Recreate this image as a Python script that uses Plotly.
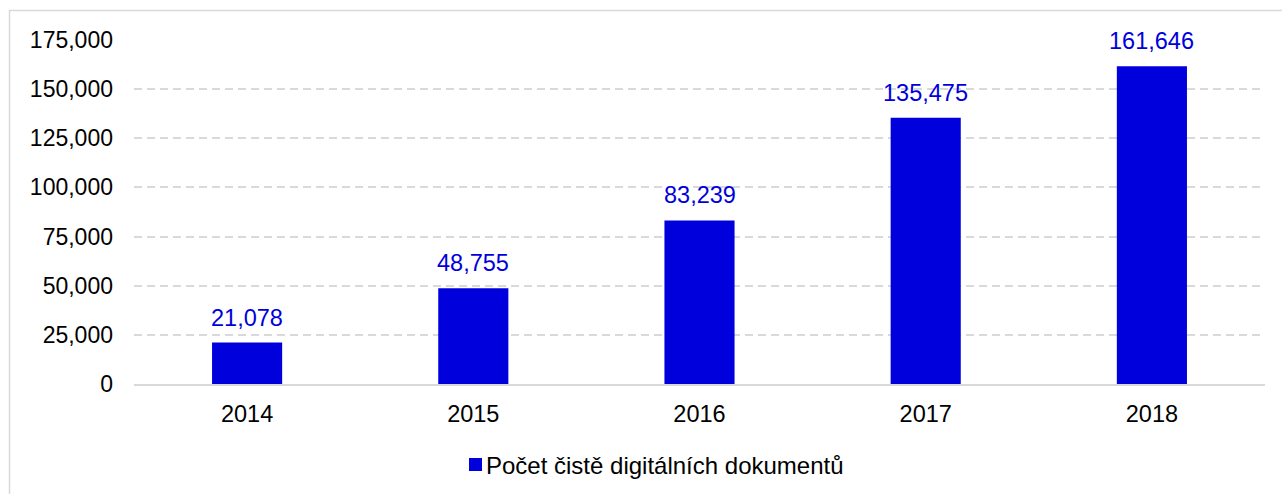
import plotly.graph_objects as go

# Data
years = ["2014", "2015", "2016", "2017", "2018"]
documents = [21078, 48755, 83239, 135475, 161646]
y_ticks = [0, 25000, 50000, 75000, 100000, 125000, 150000, 175000]
series_name = "Počet čistě digitálních dokumentů"

W, H = 1282, 494
ML, MR, MT, MB = 134, 17, 40, 110
PW, PH = W - ML - MR, H - MT - MB

BAR = "#0000DD"
GRID = "#D9D9D9"
FONT = "Liberation Sans, Arial, sans-serif"


def px_x(p):
    return (p - ML) / PW


def px_y(p):
    return (H - MB - p) / PH


fig = go.Figure()
fig.add_trace(go.Bar(
    x=years, y=documents, name=series_name,
    marker=dict(color=BAR, line=dict(width=0)),
    showlegend=False,
))

# value labels above each bar (category index positions)
for i, v in enumerate(documents):
    fig.add_annotation(
        x=i, y=v, xref="x", yref="y", text=f"{v:,}",
        showarrow=False, yanchor="bottom", yshift=10,
        font=dict(family=FONT, size=23.5, color=BAR),
    )

# legend entry: swatch + label
fig.add_shape(type="rect", xref="paper", yref="paper",
              x0=px_x(469), x1=px_x(482), y0=px_y(471), y1=px_y(458),
              fillcolor=BAR, line=dict(width=0))
fig.add_annotation(x=px_x(484), y=px_y(465), xref="paper", yref="paper",
                   text=series_name, showarrow=False, xanchor="left",
                   yanchor="middle", font=dict(family=FONT, size=24, color="#000000"))

# chart-area frame
fig.add_shape(type="rect", xref="paper", yref="paper",
              x0=px_x(9.5), x1=px_x(1310), y0=px_y(530), y1=px_y(10.5),
              line=dict(color=GRID, width=1.5), fillcolor="rgba(0,0,0,0)", layer="below")

fig.update_layout(
    width=W, height=H,
    margin=dict(l=ML, r=MR, t=MT, b=MB, pad=0),
    paper_bgcolor="white", plot_bgcolor="white",
    bargap=0.69,
    font=dict(family=FONT, size=23, color="#000000"),
    xaxis=dict(
        type="category", range=[-0.5, 4.5], showgrid=False, showline=True,
        linecolor=GRID, linewidth=2,
        ticks="", ticklabelstandoff=8, tickfont=dict(size=23.5),
    ),
    yaxis=dict(
        range=[0, 175000], tickvals=y_ticks, tickformat=",",
        showgrid=True, gridcolor=GRID, gridwidth=1.5, griddash="8px,5px",
        zeroline=False, showline=False, ticks="", ticklabelstandoff=20,
        tickfont=dict(size=23),
    ),
)

fig.write_html("out.html")
